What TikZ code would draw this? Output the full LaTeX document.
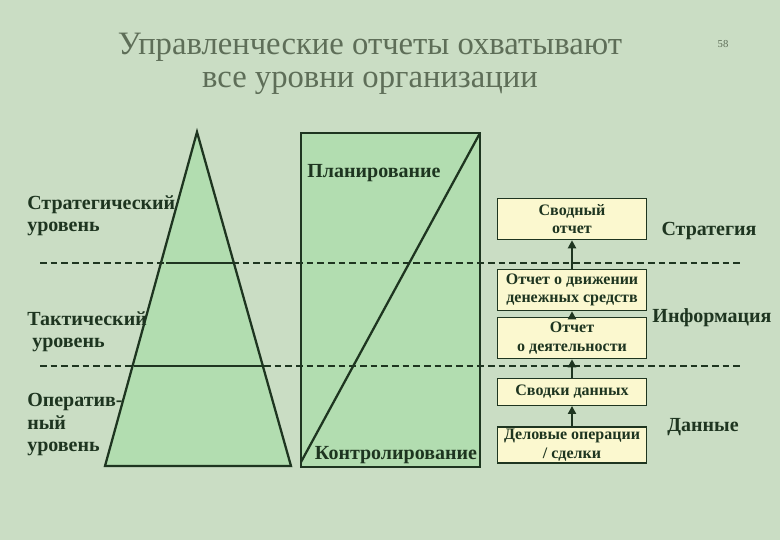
\documentclass[tikz,border=0pt]{standalone}
\usepackage{fontspec}
\setmainfont{Liberation Serif}
\usetikzlibrary{arrows.meta}
\definecolor{bg}{HTML}{CADDC4}
\definecolor{shp}{HTML}{B2DDB0}
\definecolor{bx}{HTML}{FBF8CF}
\definecolor{ln}{HTML}{1E3520}
\definecolor{tt}{HTML}{5E6E58}
\tikzset{
 lbl/.style={font=\bfseries\fontsize{15}{17}\selectfont, text=ln, align=left, inner sep=0},
 rb/.style={draw=ln, line width=0.9pt, fill=bx, minimum width=112pt, align=center, inner sep=0, font=\bfseries\fontsize{12}{14}\selectfont, text=ln},
 side/.style={font=\bfseries\fontsize{15}{17}\selectfont, text=ln},
 arr/.style={-{Triangle[length=6pt,width=6pt]}, line width=1.6pt, draw=ln},
 dl/.style={dashed, dash pattern=on 5pt off 3pt, line width=1.1pt, draw=ln}
}
\begin{document}
\begin{tikzpicture}[x=0.75pt,y=-0.75pt]
\fill[bg] (0,0) rectangle (780,540);
\useasboundingbox (0,0) rectangle (780,540);
\node[text=tt, font=\fontsize{24.5}{25}\selectfont, align=center] (title) at (370,64) {Управленческие отчеты охватывают\\все уровни организации};
\node[text=tt, font=\fontsize{8}{9}\selectfont] (pg) at (723,44) {58};
\fill[shp] (197,132) -- (291,466) -- (105,466) -- cycle;
\fill[shp] (301,133) rectangle (480,467);
\draw[dl] (40,263) -- (740,263);
\draw[dl] (40,366) -- (740,366);
\draw[ln, line width=1.7pt] (166,263) -- (234,263);
\draw[ln, line width=1.7pt] (134,366) -- (262,366);
\draw[ln, line width=1.7pt] (197,132) -- (291,466) -- (105,466) -- cycle;
\draw[ln, line width=1.7pt] (301,133) rectangle (480,467);
\draw[ln, line width=1.7pt] (301,462) -- (480,133);
\node[lbl] (pl) at (374,173) {Планирование};
\node[lbl] (ko) at (396,455) {Контролирование};
\node[lbl, anchor=north west] (s1) at (27,195) {Стратегический\\уровень};
\node[lbl, anchor=north west] (s2) at (27,311) {Тактический\\\ уровень};
\node[lbl, anchor=north west] (s3) at (27,393) {Оператив-\\ный\\уровень};
\node[rb, minimum height=31pt] (b1) at (572,219) {Сводный\\отчет};
\node[rb, minimum height=31pt] (b2) at (572,290) {Отчет о движении\\денежных средств};
\node[rb, minimum height=31pt] (b3) at (572,338) {Отчет\\о деятельности};
\node[rb, minimum height=20pt] (b4) at (572,392) {Сводки данных};
\node[rb, minimum height=27pt] (b5) at (572,445) {Деловые операции\\/ сделки};
\draw[arr] (b2) -- (b1);
\draw[arr] (b3) -- (b2);
\draw[arr] (b4) -- (b3);
\draw[arr] (b5) -- (b4);
\node[side] (st) at (709,231) {Стратегия};
\node[side] (in) at (712,318) {Информация};
\node[side] (da) at (703,427) {Данные};
\end{tikzpicture}
\end{document}
